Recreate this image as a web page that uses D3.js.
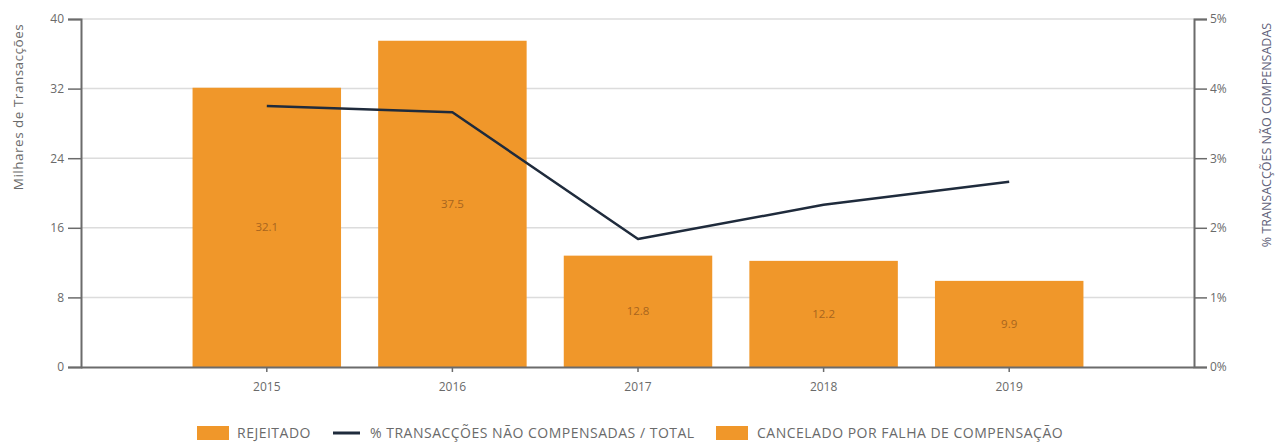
<!DOCTYPE html>
<html><head><meta charset="utf-8">
<script src="https://cdn.jsdelivr.net/npm/d3@7"></script>
<style>
html,body{margin:0;padding:0;background:#fff;}
svg{display:block;font-family:"Open Sans",sans-serif;}
</style></head>
<body><svg id="c" width="1280" height="443"></svg>
<script>
const years = ["2015","2016","2017","2018","2019"];
const rejeitado = [32.1, 37.5, 12.8, 12.2, 9.9];
const cancelado = [0, 0, 0, 0, 0];
const pctNaoCompensadas = [3.75, 3.66, 1.84, 2.33, 2.66];
const leftTicks = [0, 8, 16, 24, 32, 40];
const rightTicks = [0, 1, 2, 3, 4, 5];
const leftTitle = "Milhares de Transacções";
const rightTitle = "% TRANSACÇÕES NÃO COMPENSADAS";
const legendLabels = ["REJEITADO", "% TRANSACÇÕES NÃO COMPENSADAS / TOTAL", "CANCELADO POR FALHA DE COMPENSAÇÃO"];

const svg = d3.select("#c");
const L = 81, R = 1194, T = 19, B = 367;
const barColor = "#F0972A", lineColor = "#1f2b3c", axisColor = "#6b6b6b", textColor = "#6a6a6a";

const x = d3.scaleBand().domain(years).range([174, 1102]).paddingInner(0.2).paddingOuter(0.1);
const y = d3.scaleLinear().domain([0, 40]).range([B, T]);
const y2 = d3.scaleLinear().domain([0, 5]).range([B, T]);

// gridlines
svg.append("g").selectAll("line").data(leftTicks.filter(d => d > 0)).join("line")
  .attr("x1", L).attr("x2", R).attr("y1", d => y(d)).attr("y2", d => y(d))
  .attr("stroke", "#dcdcdc").attr("stroke-width", 1.5);

// bars
svg.append("g").selectAll("rect").data(years).join("rect")
  .attr("x", d => x(d)).attr("width", x.bandwidth())
  .attr("y", (d, i) => y(rejeitado[i] + cancelado[i])).attr("height", (d, i) => y(0) - y(rejeitado[i] + cancelado[i]))
  .attr("fill", barColor);

// bar labels
svg.append("g").selectAll("text").data(years).join("text")
  .attr("x", d => x(d) + x.bandwidth() / 2)
  .attr("y", (d, i) => (y(rejeitado[i]) + y(0)) / 2)
  .attr("dy", "0.35em").attr("text-anchor", "middle")
  .attr("font-size", 11.5).attr("fill", "#a8651e")
  .text((d, i) => d3.format(".1f")(rejeitado[i]));

// line
const line = d3.line().x((d, i) => x(years[i]) + x.bandwidth() / 2).y(d => y2(d));
svg.append("path").datum(pctNaoCompensadas).attr("d", line)
  .attr("fill", "none").attr("stroke", lineColor).attr("stroke-width", 2.5)
  .attr("stroke-linejoin", "round");

// axes
const gl = svg.append("g").attr("transform", `translate(${L},0)`)
  .call(d3.axisLeft(y).tickValues(leftTicks).tickSize(13).tickPadding(4));
const gr = svg.append("g").attr("transform", `translate(${R},0)`)
  .call(d3.axisRight(y2).tickValues(rightTicks).tickSize(13).tickPadding(3).tickFormat(d => d + "%"));
const gb = svg.append("g").attr("transform", `translate(0,${B})`)
  .call(d3.axisBottom(x).tickSize(5).tickPadding(10));
gb.select(".domain").attr("d", `M${L},0.5H${R}`);
[gl, gr, gb].forEach(g => {
  g.select(".domain").attr("stroke", axisColor).attr("stroke-width", 2);
  g.selectAll(".tick line").attr("stroke", axisColor).attr("stroke-width", 1.5);
  g.selectAll(".tick text").attr("fill", textColor).attr("font-size", 12).attr("font-family", "Open Sans");
});

// axis titles
svg.append("text").attr("transform", "translate(18,107) rotate(-90)")
  .attr("text-anchor", "middle").attr("dy", "0.35em").attr("font-size", 13.5)
  .attr("letter-spacing", 0.5).attr("fill", textColor)
  .text(leftTitle);
svg.append("text").attr("transform", "translate(1267,135) rotate(-90)")
  .attr("text-anchor", "middle").attr("dy", "0.35em").attr("font-size", 12.5).attr("fill", "#62627a")
  .text(rightTitle);

// legend
const lg = svg.append("g").attr("font-size", 14).attr("letter-spacing", 0.5).attr("fill", textColor);
const ly = 433;
lg.append("rect").attr("x", 197).attr("y", ly - 7).attr("width", 32).attr("height", 14).attr("fill", barColor);
lg.append("text").attr("x", 237).attr("y", ly).attr("dy", "0.35em").text(legendLabels[0]);
lg.append("line").attr("x1", 333).attr("x2", 360).attr("y1", ly).attr("y2", ly).attr("stroke", lineColor).attr("stroke-width", 3);
lg.append("text").attr("x", 370).attr("y", ly).attr("dy", "0.35em").text(legendLabels[1]);
lg.append("rect").attr("x", 716).attr("y", ly - 7).attr("width", 32).attr("height", 14).attr("fill", barColor);
lg.append("text").attr("x", 757).attr("y", ly).attr("dy", "0.35em").text(legendLabels[2]);
</script></body></html>
